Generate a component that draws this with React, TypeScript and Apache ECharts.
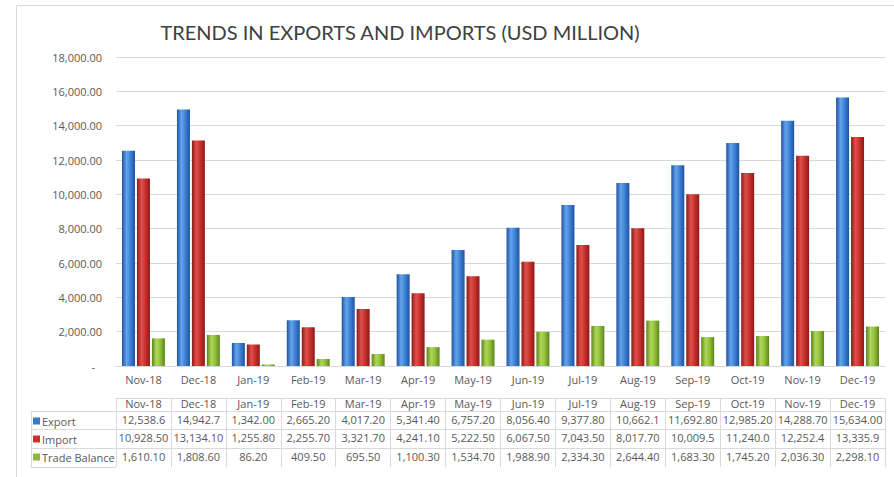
import React, { useEffect, useRef } from "react";
import * as echarts from "echarts";

const categories = ["Nov-18", "Dec-18", "Jan-19", "Feb-19", "Mar-19", "Apr-19", "May-19", "Jun-19", "Jul-19", "Aug-19", "Sep-19", "Oct-19", "Nov-19", "Dec-19"];
const exportValues = [12538.6, 14942.7, 1342.0, 2665.2, 4017.2, 5341.4, 6757.2, 8056.4, 9377.8, 10662.1, 11692.8, 12985.2, 14288.7, 15634.0];
const importValues = [10928.5, 13134.1, 1255.8, 2255.7, 3321.7, 4241.1, 5222.5, 6067.5, 7043.5, 8017.7, 10009.5, 11240.0, 12252.4, 13335.9];
const balanceValues = [1610.1, 1808.6, 86.2, 409.5, 695.5, 1100.3, 1534.7, 1988.9, 2334.3, 2644.4, 1683.3, 1745.2, 2036.3, 2298.1];
const exportLabels = ["12,538.6", "14,942.7", "1,342.00", "2,665.20", "4,017.20", "5,341.40", "6,757.20", "8,056.40", "9,377.80", "10,662.1", "11,692.80", "12,985.20", "14,288.70", "15,634.00"];
const importLabels = ["10,928.50", "13,134.10", "1,255.80", "2,255.70", "3,321.70", "4,241.10", "5,222.50", "6,067.50", "7,043.50", "8,017.70", "10,009.5", "11,240.0", "12,252.4", "13,335.9"];
const balanceLabels = ["1,610.10", "1,808.60", "86.20", "409.50", "695.50", "1,100.30", "1,534.70", "1,988.90", "2,334.30", "2,644.40", "1,683.30", "1,745.20", "2,036.30", "2,298.10"];
const seriesNames = ["Export", "Import", "Trade Balance"];

const FONT = "'Open Sans', 'Noto Sans', sans-serif";
const TXT = "#595959";
const LINE = "#d9d9d9";

function cyl(dark: string, light: string, mid: string) {
  return new echarts.graphic.LinearGradient(0, 0, 1, 0, [
    { offset: 0, color: dark },
    { offset: 0.35, color: light },
    { offset: 0.65, color: mid },
    { offset: 1, color: dark },
  ]);
}

export default function App() {
  const ref = useRef<HTMLDivElement>(null);
  useEffect(() => {
    if (!ref.current) return;
    const chart = echarts.init(ref.current, null, { renderer: "svg" });
    const gridTop = 57;
    const gridBottom = 111;
    const axisY = 477 - gridBottom; // 366
    const rowLines = [398, 411, 429, 448];
    const rowLabels = [categories, exportLabels, importLabels, balanceLabels];
    const tableAxes = rowLines.map((ly, i) => {
      const next = i < rowLines.length - 1 ? rowLines[i + 1] : 467;
      return {
        type: "category",
        data: rowLabels[i],
        position: "bottom",
        offset: ly - axisY,
        gridIndex: 0,
        boundaryGap: true,
        axisLine: { show: true, lineStyle: { color: LINE, width: 1 } },
        axisTick: { show: true, length: next - ly, lineStyle: { color: LINE } },
        axisLabel: { color: TXT, fontSize: 11, fontFamily: FONT, margin: i === 0 ? 0 : 3, interval: 0 },
        splitLine: { show: false },
      };
    });
    const colors = [
      cyl("#1f52a0", "#64a4ec", "#3d80d6"),
      cyl("#8c1a1a", "#e0504a", "#c8302c"),
      cyl("#5a851c", "#b0d758", "#93bf3a"),
    ];
    const solid = ["#3a78c9", "#c8312f", "#8db83a"];
    const rowText = [421, 439, 457];
    const graphics: any[] = [
      { type: "rect", shape: { x: 16.5, y: 5.5, width: 900, height: 500 }, style: { fill: "none", stroke: LINE, lineWidth: 1 }, silent: true },
      { type: "line", shape: { x1: 31.5, y1: 411, x2: 31.5, y2: 467 }, style: { stroke: LINE, lineWidth: 1 } },
    ];
    [411, 429, 448, 467].forEach((y) => {
      graphics.push({ type: "line", shape: { x1: 31, y1: y + 0.5, x2: 116, y2: y + 0.5 }, style: { stroke: LINE, lineWidth: 1 } });
    });
    seriesNames.forEach((n, i) => {
      graphics.push({ type: "rect", shape: { x: 33, y: rowText[i] - 3.5, width: 7, height: 7 }, style: { fill: solid[i] } });
      graphics.push({ type: "text", x: 42, y: rowText[i], style: { text: n, fill: TXT, font: `11px ${FONT}`, verticalAlign: "middle", align: "left" } });
    });

    chart.setOption({
      animation: false,
      backgroundColor: "#ffffff",
      title: {
        text: "TRENDS IN EXPORTS AND IMPORTS (USD MILLION)",
        left: 395,
        top: 17,
        textAlign: "center",
        textStyle: { color: "#404040", fontSize: 20, fontWeight: "normal", fontFamily: "Lato, sans-serif" },
      },
      legend: { show: false, data: seriesNames },
      grid: { left: 116, right: 9, top: gridTop, bottom: gridBottom, containLabel: false },
      xAxis: [
        {
          type: "category",
          data: categories,
          boundaryGap: true,
          axisLine: { show: true, lineStyle: { color: LINE } },
          axisTick: { show: false },
          axisLabel: { color: TXT, fontSize: 11, fontFamily: FONT, margin: 8, interval: 0 },
        },
        ...tableAxes,
      ],
      yAxis: {
        type: "value",
        min: 0,
        max: 18000,
        interval: 2000,
        axisLine: { show: false },
        axisTick: { show: false },
        splitLine: { lineStyle: { color: LINE } },
        axisLabel: {
          color: TXT,
          fontSize: 11,
          fontFamily: FONT,
          margin: 14,
          formatter: (v: number) =>
            v === 0 ? "{z|-}" : v.toLocaleString("en-US", { minimumFractionDigits: 2, maximumFractionDigits: 2 }),
          rich: { z: { color: TXT, fontSize: 11, padding: [0, 7, 0, 0] } },
        },
      },
      series: [exportValues, importValues, balanceValues].map((d, i) => ({
        name: seriesNames[i],
        type: "bar",
        xAxisIndex: 0,
        data: d,
        barWidth: 13,
        barGap: "15%",
        itemStyle: { color: colors[i] },
      })),
      graphic: graphics,
    });
    return () => chart.dispose();
  }, []);
  return <div ref={ref} style={{ position: "fixed", left: 0, top: 0, width: 894, height: 477 }} />;
}
